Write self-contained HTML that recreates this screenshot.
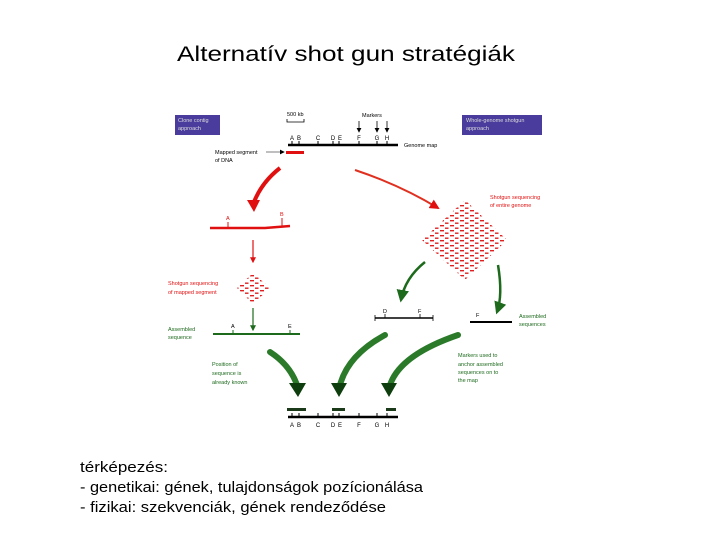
<!DOCTYPE html>
<html><head><meta charset="utf-8"><style>
body{margin:0;background:#fff;width:720px;height:540px;overflow:hidden}
svg{position:absolute;left:0;top:0}
.s{font-family:"Liberation Sans",sans-serif;font-size:5.5px}
.b{font-family:"Liberation Sans",sans-serif;font-size:15px;fill:#000}
</style></head><body>
<svg width="720" height="540" viewBox="0 0 720 540">
<defs>
<marker id="ak" markerWidth="6" markerHeight="6" refX="5" refY="3" orient="auto"><path d="M0,0L6,3L0,6z" fill="#000"/></marker>
<marker id="ar" markerWidth="5" markerHeight="5" refX="4" refY="2.5" orient="auto"><path d="M0,0L5,2.5L0,5z" fill="#e01010"/></marker>
<marker id="ag" markerWidth="5" markerHeight="5" refX="4" refY="2.5" orient="auto"><path d="M0,0L5,2.5L0,5z" fill="#1d6a1d"/></marker>
<pattern id="dash" width="10" height="5" patternUnits="userSpaceOnUse"><rect x="0" y="0" width="4" height="1.4" fill="#e02020"/><rect x="5" y="2.5" width="3.5" height="1.4" fill="#e02020"/></pattern>
</defs>
<text x="177" y="61" textLength="338" lengthAdjust="spacingAndGlyphs" font-family="Liberation Sans,sans-serif" font-size="21" fill="#000">Alternatív shot gun stratégiák</text>
<rect x="175" y="115" width="45" height="20" fill="#4a3c9c"/>
<text x="178" y="122" class="s" fill="#ddd">Clone contig</text><text x="178" y="130" class="s" fill="#ddd">approach</text>
<rect x="462" y="115" width="80" height="20" fill="#4a3c9c"/>
<text x="466" y="122" class="s" fill="#ddd">Whole-genome shotgun</text><text x="466" y="130" class="s" fill="#ddd">approach</text>
<text x="287" y="116" class="s">500 kb</text>
<path d="M287,119v3h17v-3" stroke="#000" fill="none" stroke-width="0.8"/>
<text x="362" y="117" class="s">Markers</text>
<g stroke="#000" stroke-width="0.8" marker-end="url(#ak)"><line x1="359" y1="121" x2="359" y2="132"/><line x1="377" y1="121" x2="377" y2="132"/><line x1="387" y1="121" x2="387" y2="132"/></g>
<g font-family="Liberation Sans,sans-serif" font-size="6" text-anchor="middle">
<text x="292" y="140">A</text><text x="299" y="140">B</text><text x="318" y="140">C</text><text x="333" y="140">D</text><text x="340" y="140">E</text><text x="359" y="140">F</text><text x="377" y="140">G</text><text x="387" y="140">H</text>
<text x="292" y="427">A</text><text x="299" y="427">B</text><text x="318" y="427">C</text><text x="333" y="427">D</text><text x="340" y="427">E</text><text x="359" y="427">F</text><text x="377" y="427">G</text><text x="387" y="427">H</text>
</g>
<line x1="288" y1="145" x2="398" y2="145" stroke="#000" stroke-width="2.5"/>
<line x1="288" y1="417" x2="398" y2="417" stroke="#000" stroke-width="2.5"/>
<g stroke="#000" stroke-width="1"><path d="M292,141v4M299,141v4M318,141v4M333,141v4M339,141v4M359,141v4M377,141v4M387,141v4"/><path d="M292,413v4M299,413v4M318,413v4M333,413v4M339,413v4M359,413v4M377,413v4M387,413v4"/></g>
<text x="404" y="147" class="s">Genome map</text>
<text x="215" y="154" class="s">Mapped segment</text><text x="215" y="162" class="s">of DNA</text>
<line x1="266" y1="152" x2="284" y2="152" stroke="#555" stroke-width="0.8" marker-end="url(#ak)"/>
<rect x="286" y="151" width="18" height="3" fill="#e01010"/>
<path d="M280,168 Q262,182 254,202" stroke="#e01010" stroke-width="4" fill="none"/>
<path d="M247,200 L254,212 L260,200z" fill="#e01010"/>
<path d="M355,170 Q400,185 438,208" stroke="#e03020" stroke-width="2" fill="none" marker-end="url(#ar)"/>
<text x="490" y="199" class="s" fill="#e01010">Shotgun sequencing</text><text x="490" y="207" class="s" fill="#e01010">of entire genome</text>
<path d="M210,228 L265,228 L290,226" stroke="#e01010" stroke-width="2.5" fill="none"/>
<path d="M228,222v6M282,218v8" stroke="#e01010"/>
<text x="226" y="220" class="s" fill="#e01010">A</text><text x="280" y="216" class="s" fill="#e01010">B</text>
<line x1="253" y1="240" x2="253" y2="262" stroke="#e01010" stroke-width="1.2" marker-end="url(#ar)"/>
<path d="M253,273 L270,288 L253,304 L237,288z" fill="url(#dash)"/>
<text x="168" y="285" class="s" fill="#e01010">Shotgun sequencing</text><text x="168" y="294" class="s" fill="#e01010">of mapped segment</text>
<line x1="253" y1="308" x2="253" y2="330" stroke="#1d6a1d" stroke-width="1.2" marker-end="url(#ag)"/>
<line x1="213" y1="334" x2="300" y2="334" stroke="#1d6a1d" stroke-width="2"/>
<path d="M233,330v4M290,330v4" stroke="#1d6a1d"/>
<text x="231" y="328" class="s">A</text><text x="288" y="328" class="s">E</text>
<text x="168" y="331" class="s" fill="#1d6a1d">Assembled</text><text x="168" y="339" class="s" fill="#1d6a1d">sequence</text>
<path d="M465,200 L507,240 L465,280 L422,240z" fill="url(#dash)"/>
<path d="M425,262 Q405,278 401,300" stroke="#1d6a1d" stroke-width="2.5" fill="none" marker-end="url(#ag)"/>
<path d="M498,265 Q503,295 497,312" stroke="#1d6a1d" stroke-width="2.5" fill="none" marker-end="url(#ag)"/>
<line x1="375" y1="318" x2="433" y2="318" stroke="#000" stroke-width="1.5"/>
<path d="M375,315v6M433,315v6M385,314v4M420,314v4" stroke="#000" stroke-width="0.8"/>
<text x="383" y="313" class="s">D</text><text x="418" y="313" class="s">F</text>
<line x1="470" y1="322" x2="512" y2="322" stroke="#000" stroke-width="2"/>
<text x="476" y="317" class="s">F</text>
<text x="519" y="318" class="s" fill="#1d6a1d">Assembled</text><text x="519" y="326" class="s" fill="#1d6a1d">sequences</text>
<g fill="none" stroke-linecap="round">
<path d="M270,352 Q290,365 297,385" stroke="#2a7a2a" stroke-width="6"/>
<path d="M385,335 Q348,355 340,385" stroke="#2a7a2a" stroke-width="6"/>
<path d="M458,335 Q400,355 390,385" stroke="#2a7a2a" stroke-width="6"/>
</g>
<path d="M289,383 L298,397 L306,383z M331,383 L339,397 L347,383z M381,383 L389,397 L397,383z" fill="#0e3e0e"/>
<text x="212" y="366" class="s" fill="#1d6a1d">Position of</text><text x="212" y="375" class="s" fill="#1d6a1d">sequence is</text><text x="212" y="384" class="s" fill="#1d6a1d">already known</text>
<text x="458" y="357" class="s" fill="#1d6a1d">Markers used to</text><text x="458" y="366" class="s" fill="#1d6a1d">anchor assembled</text><text x="458" y="374" class="s" fill="#1d6a1d">sequences on to</text><text x="458" y="382" class="s" fill="#1d6a1d">the map</text>
<g fill="#1a3a1a"><rect x="287" y="408" width="19" height="3"/><rect x="332" y="408" width="13" height="3"/><rect x="386" y="408" width="10" height="3"/></g>
<text x="80" y="472" class="b" textLength="88" lengthAdjust="spacingAndGlyphs">térképezés:</text>
<text x="80" y="492" class="b" textLength="343" lengthAdjust="spacingAndGlyphs">- genetikai: gének, tulajdonságok pozícionálása</text>
<text x="80" y="512" class="b" textLength="306" lengthAdjust="spacingAndGlyphs">- fizikai: szekvenciák, gének rendeződése</text>
</svg>
</body></html>
